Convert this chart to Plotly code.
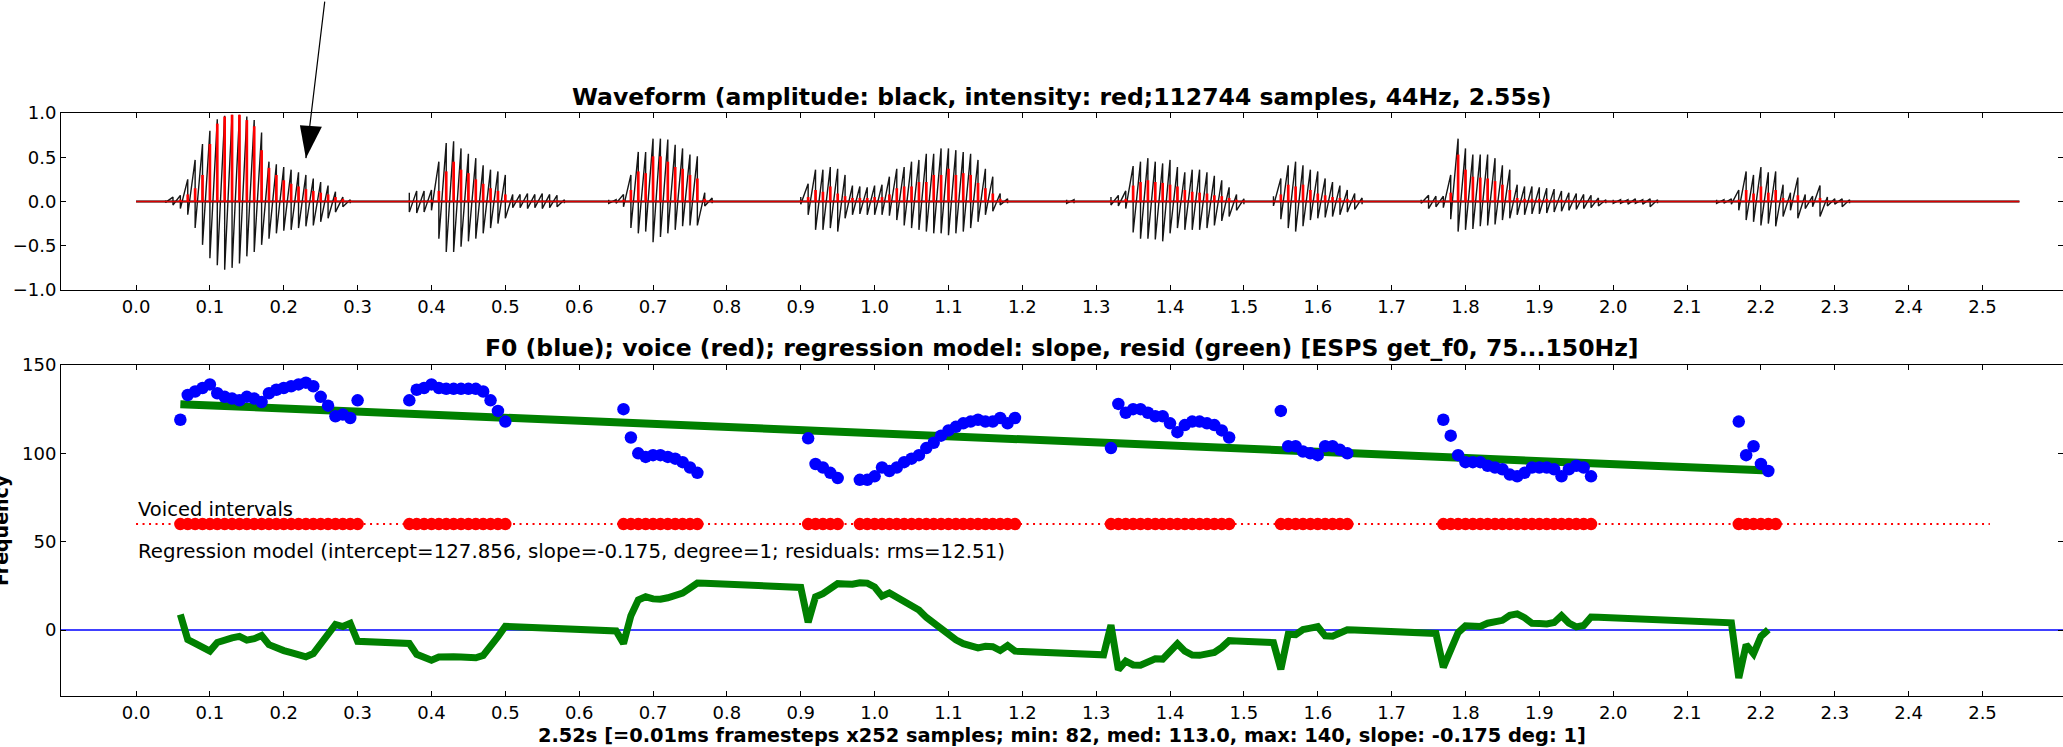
import plotly.graph_objects as go

W, H = 2063, 747
FONT = "DejaVu Sans"

# ---------------- top panel: waveform envelope, read every 10 ms ----------------
wave_seg_start = [0.04, 0.37, 0.64, 0.90, 1.26, 1.32, 1.54, 1.74, 2.00, 2.14]
wave_pos = [
    [0.01, 0.05, 0.07, 0.25, 0.47, 0.65, 0.80, 0.93, 0.97, 0.98, 0.98, 0.96, 0.92, 0.78, 0.45, 0.42, 0.39, 0.36, 0.33, 0.30, 0.26, 0.22, 0.18, 0.11, 0.05, 0.02],
    [0.10, 0.12, 0.12, 0.13, 0.45, 0.66, 0.68, 0.60, 0.54, 0.49, 0.41, 0.36, 0.34, 0.30, 0.08, 0.08, 0.09, 0.08, 0.09, 0.08, 0.07, 0.02],
    [0.02, 0.02, 0.08, 0.30, 0.56, 0.56, 0.71, 0.71, 0.70, 0.64, 0.60, 0.53, 0.51, 0.10, 0.04],
    [0.05, 0.20, 0.36, 0.36, 0.39, 0.37, 0.30, 0.18, 0.17, 0.16, 0.18, 0.19, 0.28, 0.37, 0.39, 0.45, 0.47, 0.54, 0.54, 0.60, 0.60, 0.58, 0.56, 0.54, 0.47, 0.37, 0.28, 0.09, 0.03],
    [0.02, 0.02],
    [0.05, 0.07, 0.12, 0.40, 0.45, 0.49, 0.45, 0.43, 0.47, 0.39, 0.33, 0.36, 0.36, 0.33, 0.29, 0.24, 0.16, 0.08, 0.03],
    [0.06, 0.26, 0.41, 0.45, 0.41, 0.36, 0.34, 0.26, 0.22, 0.18, 0.13, 0.09, 0.04],
    [0.02, 0.07, 0.06, 0.06, 0.30, 0.71, 0.60, 0.53, 0.53, 0.53, 0.49, 0.41, 0.36, 0.19, 0.17, 0.17, 0.16, 0.15, 0.14, 0.12, 0.10, 0.09, 0.08, 0.07, 0.04, 0.02],
    [0.02, 0.02, 0.02, 0.03, 0.02, 0.03, 0.02],
    [0.02, 0.02, 0.03, 0.13, 0.34, 0.30, 0.39, 0.33, 0.34, 0.19, 0.10, 0.27, 0.08, 0.06, 0.18, 0.05, 0.03, 0.03, 0.02],
]
wave_neg = [
    [-0.01, -0.04, -0.08, -0.15, -0.30, -0.49, -0.64, -0.72, -0.77, -0.75, -0.70, -0.62, -0.57, -0.49, -0.42, -0.36, -0.33, -0.32, -0.30, -0.28, -0.27, -0.23, -0.19, -0.12, -0.06, -0.02],
    [-0.12, -0.13, -0.12, -0.10, -0.42, -0.57, -0.57, -0.51, -0.45, -0.42, -0.36, -0.30, -0.25, -0.19, -0.07, -0.07, -0.08, -0.07, -0.08, -0.07, -0.06, -0.02],
    [-0.02, -0.02, -0.06, -0.30, -0.36, -0.34, -0.46, -0.40, -0.36, -0.32, -0.28, -0.27, -0.27, -0.05, -0.02],
    [-0.03, -0.15, -0.32, -0.32, -0.30, -0.34, -0.19, -0.15, -0.14, -0.15, -0.15, -0.15, -0.16, -0.21, -0.27, -0.30, -0.32, -0.34, -0.36, -0.36, -0.38, -0.36, -0.34, -0.30, -0.23, -0.15, -0.11, -0.04, -0.02],
    [-0.02, -0.02],
    [-0.04, -0.05, -0.08, -0.35, -0.42, -0.42, -0.43, -0.45, -0.36, -0.30, -0.32, -0.32, -0.32, -0.30, -0.27, -0.22, -0.17, -0.10, -0.03],
    [-0.05, -0.20, -0.30, -0.34, -0.28, -0.21, -0.19, -0.18, -0.17, -0.15, -0.12, -0.09, -0.03],
    [-0.02, -0.08, -0.06, -0.07, -0.20, -0.34, -0.32, -0.31, -0.28, -0.27, -0.26, -0.21, -0.19, -0.15, -0.15, -0.14, -0.14, -0.13, -0.12, -0.11, -0.10, -0.09, -0.08, -0.07, -0.05, -0.02],
    [-0.02, -0.02, -0.03, -0.02, -0.03, -0.06, -0.02],
    [-0.02, -0.02, -0.03, -0.10, -0.21, -0.23, -0.27, -0.25, -0.28, -0.17, -0.10, -0.19, -0.08, -0.06, -0.17, -0.05, -0.03, -0.06, -0.02],
]
intensity = [
    [0, 0, 0.02, 0.08, 0.15, 0.30, 0.65, 0.88, 0.96, 0.98, 0.98, 0.92, 0.85, 0.58, 0.38, 0.30, 0.24, 0.20, 0.17, 0.14, 0.12, 0.10, 0.08, 0.05, 0.03, 0.01],
    [0.01, 0.01, 0.01, 0.02, 0.12, 0.34, 0.45, 0.36, 0.32, 0.25, 0.20, 0.15, 0.12, 0.08, 0.01, 0.01, 0.01, 0.01, 0.01, 0.01, 0.01, 0],
    [0, 0, 0.02, 0.13, 0.34, 0.32, 0.51, 0.51, 0.45, 0.39, 0.37, 0.30, 0.26, 0.03, 0.01],
    [0.01, 0.05, 0.13, 0.11, 0.17, 0.09, 0.06, 0.04, 0.04, 0.04, 0.05, 0.05, 0.08, 0.15, 0.17, 0.17, 0.22, 0.22, 0.30, 0.30, 0.37, 0.30, 0.32, 0.30, 0.21, 0.15, 0.09, 0.03, 0.01],
    [0, 0],
    [0.01, 0.01, 0.03, 0.18, 0.22, 0.24, 0.22, 0.21, 0.19, 0.17, 0.13, 0.11, 0.10, 0.09, 0.07, 0.06, 0.04, 0.02, 0.01],
    [0.01, 0.08, 0.19, 0.17, 0.19, 0.13, 0.09, 0.07, 0.05, 0.04, 0.03, 0.02, 0.01],
    [0, 0.01, 0.01, 0.01, 0.10, 0.53, 0.36, 0.28, 0.27, 0.26, 0.23, 0.19, 0.13, 0.04, 0.03, 0.03, 0.03, 0.03, 0.02, 0.02, 0.02, 0.01, 0.01, 0.01, 0.01, 0],
    [0, 0, 0, 0, 0, 0, 0],
    [0, 0, 0, 0.02, 0.13, 0.09, 0.17, 0.10, 0.13, 0.04, 0.02, 0.07, 0.01, 0.01, 0.04, 0.01, 0, 0, 0],
]
wave_step = 0.01
wave_duration = 2.55

# ---------------- bottom panel: F0 (Hz) per 10 ms frame ----------------
f0_seg_start = [0.06, 0.37, 0.66, 0.91, 0.98, 1.32, 1.55, 1.77, 2.17]
f0_values = [
    [119, 133, 135, 137, 139, 134, 132, 131, 130, 132, 131, 129, 134, 136, 137, 138, 139, 140, 138, 132, 127, 121, 122, 120, 130],
    [130, 136, 137, 139, 137, 136.5, 136.5, 136.5, 136.5, 136.5, 135, 130, 124, 118],
    [125, 109, 100, 98, 99, 99, 98, 97, 95, 92, 89],
    [108.5, 94, 92, 89, 86],
    [85, 85, 87, 92, 90, 92, 95, 97, 99, 103, 106, 110, 113, 115, 117, 118, 119, 118, 118, 120, 117, 120],
    [103, 128, 123, 125, 125, 123, 121, 121, 117, 112, 116, 118, 118, 117, 116, 113, 109],
    [124, 104, 104, 101, 100, 99, 104, 104, 102, 100],
    [119, 110, 99, 95, 95, 95, 93, 92, 91, 88, 87, 89, 92, 92, 92, 91, 87, 91, 93, 92, 87],
    [118, 99, 104, 94, 90],
]
frame_step = 0.01
voiced_intervals = [(0.06, 0.30), (0.37, 0.50), (0.66, 0.76), (0.91, 0.95), (0.98, 1.19),
                    (1.32, 1.48), (1.55, 1.64), (1.77, 1.97), (2.17, 2.22)]
voiced_level = 60
voiced_line_end = 2.51
reg_intercept = 127.856
reg_slope = -0.175
reg_first_t = 0.06
reg_last_t = 2.21

x_ticks = [round(i * 0.1, 1) for i in range(26)]
y1_ticks = [-1.0, -0.5, 0.0, 0.5, 1.0]
y2_ticks = [0, 50, 100, 150]
arrow_tip = (0.23, 0.49)

# ---------------- layout geometry (pixels) ----------------
L_PX = 61
TOP1, BOT1 = 113, 290
TOP2, BOT2 = 365, 696
x_range = [-0.1016, 2.609]
y2_range = [-37.3, 150]


def frames(start, n, step):
    return [round(start + i * step, 2) for i in range(n)]


fig = go.Figure()

# --- waveform: each 10 ms sample swings from its positive to its negative peak ---
wx, wy, rx, ry = [], [], [], []
for s, p, n, r in zip(wave_seg_start, wave_pos, wave_neg, intensity):
    ts = frames(s, len(p), wave_step)
    for t, a, b in zip(ts, p, n):
        wx += [t, t]
        wy += [a, b]
    wx.append(None); wy.append(None)
    for t, v in zip(ts, r):
        rx += [t, t, None]
        ry += [0, v, None]

fig.add_trace(go.Scatter(x=[0, wave_duration], y=[0, 0], mode="lines",
                         line=dict(color="black", width=2), xaxis="x", yaxis="y"))
fig.add_trace(go.Scatter(x=wx, y=wy, mode="lines", line=dict(color="#151515", width=1.4),
                         xaxis="x", yaxis="y"))
fig.add_trace(go.Scatter(x=rx, y=ry, mode="lines", line=dict(color="red", width=2.7),
                         xaxis="x", yaxis="y"))
fig.add_trace(go.Scatter(x=[0, wave_duration], y=[0, 0], mode="lines",
                         line=dict(color="rgba(255,0,0,0.85)", width=1.5), xaxis="x", yaxis="y"))

# --- bottom panel ---
f0_t, f0_v = [], []
for s, v in zip(f0_seg_start, f0_values):
    f0_t += frames(s, len(v), frame_step)
    f0_v += v


def fit(t):
    return reg_intercept + reg_slope * round((t - reg_first_t) / frame_step)


# residual over every frame; during unvoiced frames the last F0 value is held
n_frames = int(round((reg_last_t - reg_first_t) / frame_step)) + 1
all_t = frames(reg_first_t, n_frames, frame_step)
f0_lookup = dict(zip(f0_t, f0_v))
resid, held = [], f0_v[0]
for t in all_t:
    held = f0_lookup.get(t, held)
    resid.append(fit(t) - held)

voiced_t = []
for a, b in voiced_intervals:
    voiced_t += frames(a, int(round((b - a) / frame_step)) + 1, frame_step)

fig.add_trace(go.Scatter(x=[x_range[0], x_range[1]], y=[0, 0], mode="lines",
                         line=dict(color="blue", width=1.5), xaxis="x2", yaxis="y2"))
fig.add_trace(go.Scatter(x=[0, voiced_line_end], y=[voiced_level, voiced_level], mode="lines",
                         line=dict(color="red", width=2, dash="2px,4.5px"), xaxis="x2", yaxis="y2"))
fig.add_trace(go.Scatter(x=voiced_t, y=[voiced_level] * len(voiced_t), mode="markers",
                         marker=dict(color="red", size=12.5, line=dict(width=0)),
                         xaxis="x2", yaxis="y2"))
fig.add_trace(go.Scatter(x=[reg_first_t, reg_last_t], y=[fit(reg_first_t), fit(reg_last_t)],
                         mode="lines", line=dict(color="green", width=8), xaxis="x2", yaxis="y2"))
fig.add_trace(go.Scatter(x=all_t, y=resid, mode="lines",
                         line=dict(color="green", width=7), xaxis="x2", yaxis="y2"))
fig.add_trace(go.Scatter(x=f0_t, y=f0_v, mode="markers",
                         marker=dict(color="blue", size=12.5, line=dict(width=0)),
                         xaxis="x2", yaxis="y2"))

axis_common = dict(ticks="inside", ticklen=5, tickwidth=1, tickcolor="black", mirror="allticks",
                   showline=True, linecolor="black", linewidth=1, showgrid=False, zeroline=False,
                   tickfont=dict(family=FONT, size=18, color="black"))
xdom = [L_PX / W, 1.0]
fig.update_layout(
    width=W, height=H, template="none", showlegend=False,
    paper_bgcolor="white", plot_bgcolor="white",
    margin=dict(l=0, r=0, t=0, b=0),
    xaxis=dict(domain=xdom, range=x_range, anchor="y", tickvals=x_ticks,
               ticktext=[f"{v:.1f}" for v in x_ticks], **axis_common),
    yaxis=dict(domain=[1 - BOT1 / H, 1 - TOP1 / H], range=[-1, 1], anchor="x", tickvals=y1_ticks,
               ticktext=[f"{v:.1f}".replace("-", "\u2212") for v in y1_ticks], **axis_common),
    xaxis2=dict(domain=xdom, range=x_range, anchor="y2", tickvals=x_ticks,
                ticktext=[f"{v:.1f}" for v in x_ticks], **axis_common),
    yaxis2=dict(domain=[1 - BOT2 / H, 1 - TOP2 / H], range=y2_range, anchor="x2", tickvals=y2_ticks,
                ticktext=[str(v) for v in y2_ticks], **axis_common),
)

xc = (xdom[0] + xdom[1]) / 2
ann = [
    dict(text="<b>Waveform (amplitude: black, intensity: red;112744 samples, 44Hz, 2.55s)</b>",
         xref="paper", yref="paper", x=xc, y=1 - 97 / H, xanchor="center", yanchor="middle",
         showarrow=False, font=dict(family=FONT, size=23.5, color="black")),
    dict(text="<b>F0 (blue); voice (red); regression model: slope, resid (green) [ESPS get_f0, 75...150Hz]</b>",
         xref="paper", yref="paper", x=xc, y=1 - 348 / H, xanchor="center", yanchor="middle",
         showarrow=False, font=dict(family=FONT, size=23.5, color="black")),
    dict(text="<b>2.52s [=0.01ms framesteps x252 samples; min: 82, med: 113.0, max: 140, slope: -0.175 deg: 1]</b>",
         xref="paper", yref="paper", x=xc, y=1 - 735 / H, xanchor="center", yanchor="middle",
         showarrow=False, font=dict(family=FONT, size=19.4, color="black")),
    dict(text="<b>Frequency</b>", textangle=-90,
         xref="paper", yref="paper", x=1 / W, y=1 - 530 / H, xanchor="center", yanchor="middle",
         showarrow=False, font=dict(family=FONT, size=19, color="black")),
    dict(text="Voiced intervals", xref="x2", yref="y2", x=0.0, y=68.5,
         xanchor="left", yanchor="middle", showarrow=False,
         font=dict(family=FONT, size=19.5, color="black")),
    dict(text="Regression model (intercept=127.856, slope=-0.175, degree=1; residuals: rms=12.51)",
         xref="x2", yref="y2", x=0.0, y=44.5, xanchor="left", yanchor="middle", showarrow=False,
         font=dict(family=FONT, size=19.8, color="black")),
    dict(text="", xref="x", yref="y", x=arrow_tip[0], y=arrow_tip[1], ax=19, ay=-158,
         showarrow=True, arrowhead=0, arrowwidth=1.2, arrowcolor="black", standoff=0),
]
fig.update_layout(annotations=ann)
fig.add_shape(type="path", xref="x", yref="y", xsizemode="pixel", ysizemode="pixel",
              xanchor=arrow_tip[0], yanchor=arrow_tip[1],
              path="M0,0 L-6,33 L16,31.5 Z", fillcolor="black", line=dict(width=0))

fig.write_html("out.html", config={"displayModeBar": False},
               post_script="document.body.style.margin='0';"
                           "document.documentElement.style.overflow='hidden';")
